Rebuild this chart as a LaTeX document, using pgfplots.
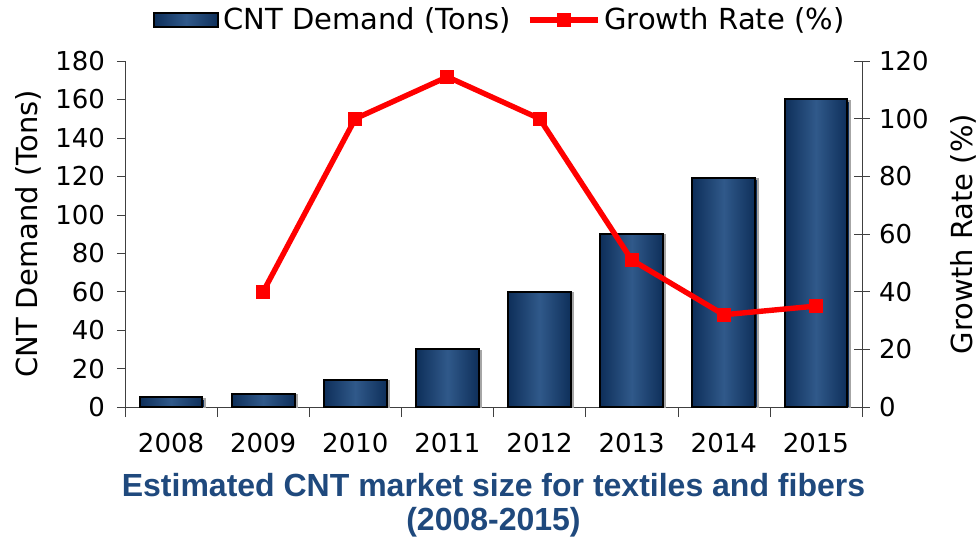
\documentclass[border=0pt]{standalone}
\usepackage{pgfplots}
\pgfplotsset{compat=1.18}
\usepackage{fontspec}
\setmainfont{DejaVu Sans}
\newfontfamily\titlefont{Liberation Sans}
\definecolor{bardark}{HTML}{0E2F5A}
\definecolor{barlight}{HTML}{30598A}
\definecolor{titleblue}{HTML}{1F497D}
\definecolor{axisgray}{HTML}{404040}

\pgfplotsset{
  basestyle/.style={
    scale only axis,width=368.5pt,height=173pt,
    xmin=-0.5,xmax=7.5,
    tick align=outside,major tick length=4pt,
    axis line style={-,axisgray},
    tick style={axisgray},
    tick label style={font=\fontsize{13}{15}\selectfont},
    label style={font=\fontsize{14.5}{16}\selectfont},
    /pgf/number format/assume math mode=true,
  },
  cbar/.style={ybar,bar shift=0pt,bar width=0.68,draw=black,line width=1pt,
    left color=bardark,right color=bardark,middle color=barlight,
    preaction={draw=black!35,fill=black!35,line width=1pt,transform canvas={xshift=1.2pt,yshift=-0.6pt}}},
  lineleg/.style={legend image code/.code={\draw[mark repeat=2,mark phase=2,##1] plot coordinates {(0pt,0pt) (17pt,0pt) (34pt,0pt)};}},
  barleg/.style={legend image code/.code={\draw[draw=black,line width=1pt,left color=bardark,right color=bardark,middle color=barlight] (0pt,-3.5pt) rectangle (32pt,3.5pt);}},
}

\begin{document}
\begin{tikzpicture}
\useasboundingbox (-62.5pt,-67.5pt) rectangle (427.5pt,203.5pt);
\begin{axis}[basestyle,
  ymin=0,ymax=180,ytick={0,20,...,180},
  axis x line*=bottom,axis y line*=left,
  xtick={0,...,7},
  xticklabels={2008,2009,2010,2011,2012,2013,2014,2015},
  xticklabel style={yshift=-5.5pt},
  yticklabel style={xshift=-2.5pt},
  major x tick style={draw=none},
  minor xtick={-0.5,0.5,...,7.5},
  minor x tick style={axisgray},minor tick length=5pt,
  ylabel={CNT Demand (Tons)},
  ylabel style={at={(axis description cs:-0.1316,0.5)},anchor=center},
]
\addplot[cbar] coordinates {(0,5)};
\addplot[cbar] coordinates {(1,7)};
\addplot[cbar] coordinates {(2,14)};
\addplot[cbar] coordinates {(3,30)};
\addplot[cbar] coordinates {(4,60)};
\addplot[cbar] coordinates {(5,90)};
\addplot[cbar] coordinates {(6,119)};
\addplot[cbar] coordinates {(7,160)};
\end{axis}
\begin{axis}[basestyle,
  ymin=0,ymax=120,ytick={0,20,...,120},
  axis y line*=right,axis x line=none,
  tick align=center,major tick length=8pt,
  yticklabel style={xshift=1pt},
  ylabel={Growth Rate (\%)},
  ylabel style={at={(axis description cs:1.137,0.5)},anchor=center},
  legend style={at={(rel axis cs:0.51,1.118)},anchor=center,legend columns=2,draw=none,
    font=\fontsize{14.5}{16}\selectfont,/tikz/every even column/.append style={column sep=6pt}},
]
\addlegendimage{barleg}
\addlegendentry{CNT Demand (Tons)}
\addplot[red,line width=2.7pt,mark=square*,mark size=3pt,mark options={line width=1pt},lineleg]
  coordinates {(1,40) (2,100) (3,114.5) (4,100) (5,51) (6,32) (7,35)};
\addlegendentry{Growth Rate (\%)}
\end{axis}
\node[align=center,font=\titlefont\bfseries\fontsize{16}{17}\selectfont,text=titleblue] at (184.25pt,-49pt)
  {Estimated CNT market size for textiles and fibers\\(2008-2015)};
\end{tikzpicture}
\end{document}
